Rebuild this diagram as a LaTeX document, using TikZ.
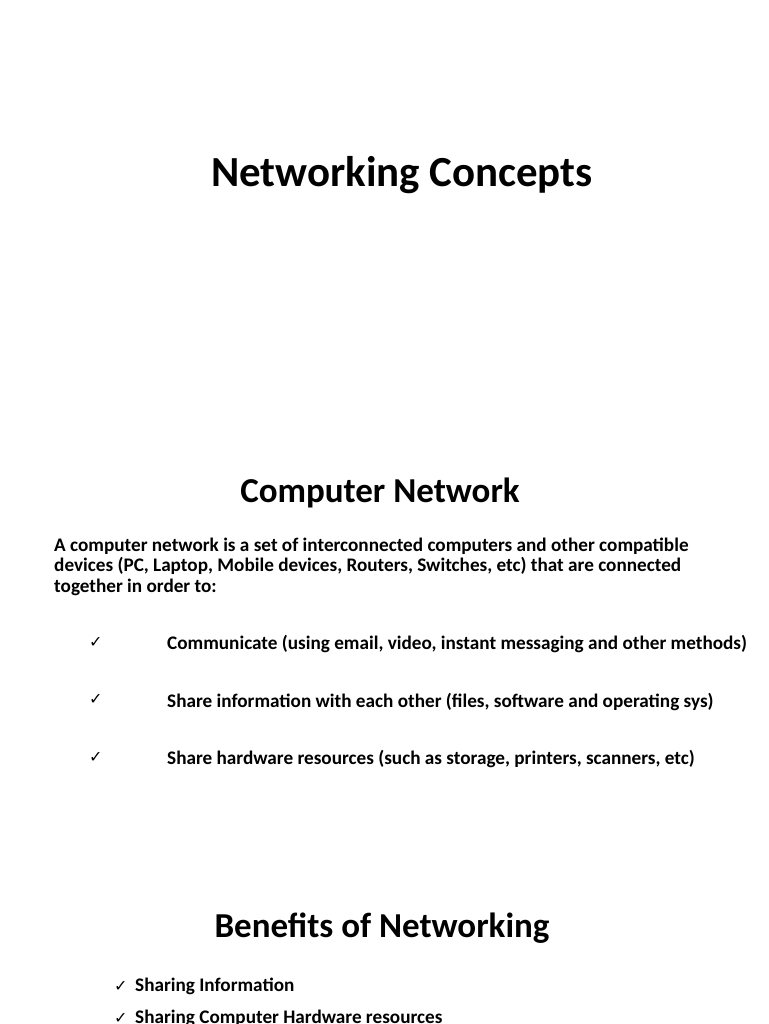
\documentclass[tikz,border=0pt]{standalone}
\usepackage{fontspec}
\setmainfont{Carlito}
\newfontfamily\symf{DejaVu Sans}
\begin{document}
\begin{tikzpicture}[x=1pt,y=-1pt,
  body/.style={anchor=base west,inner sep=0pt,font=\fontsize{19.2}{22}\selectfont\bfseries},
  head/.style={anchor=base,inner sep=0pt,font=\fontsize{35}{40}\selectfont\bfseries},
  chk/.style={anchor=base west,inner sep=0pt,font=\symf\fontsize{16}{18}\selectfont}]
\clip (0,0) rectangle (768,1024);
\useasboundingbox (0,0) rectangle (768,1024);
\fill[white] (0,0) rectangle (768,1024);
\node[head,font=\fontsize{42.9}{46}\selectfont\bfseries] (t1) at (402,187) {Networking Concepts};
\node[head] (t2) at (380,502) {Computer Network};
\node[body] (p1) at (54,551) {A computer network is a set of interconnected computers and other compatible};
\node[body] (p2) at (54,571) {devices (PC, Laptop, Mobile devices, Routers, Switches, etc) that are connected};
\node[body] (p3) at (54,592) {together in order to:};
\node[chk] (c1) at (89,647) {✓};
\node[body] (b1) at (167,649) {Communicate (using email, video, instant messaging and other methods)};
\node[chk] (c2) at (89,704) {✓};
\node[body] (b2) at (167,707) {Share information with each other (files, software and operating sys)};
\node[chk] (c3) at (89,762) {✓};
\node[body] (b3) at (167,764) {Share hardware resources (such as storage, printers, scanners, etc)};
\node[head] (t3) at (382,937) {Benefits of Networking};
\node[chk] (c4) at (114,991) {✓};
\node[body] (d1) at (135,991) {Sharing Information};
\node[chk] (c5) at (114,1023) {✓};
\node[body] (d2) at (135,1023) {Sharing Computer Hardware resources};
\end{tikzpicture}
\end{document}
